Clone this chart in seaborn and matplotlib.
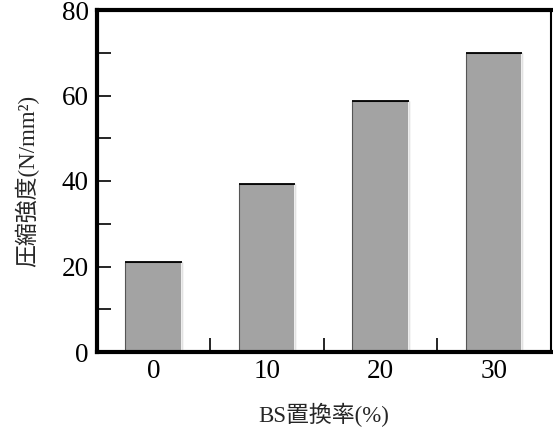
import matplotlib
matplotlib.use("Agg")
import matplotlib.pyplot as plt
import seaborn as sns
import pandas as pd
from matplotlib.ticker import MultipleLocator, FixedLocator

categories = ["0", "10", "20", "30"]
strength = [21.0, 39.3, 58.8, 70.0]
xlabel = "BS置換率(%)"
ylabel = "圧縮強度(N/mm²)"

sns.set_style("white")
plt.rcParams['font.family'] = ['Liberation Serif', 'Noto Sans CJK JP']

df = pd.DataFrame({"rate": categories, "strength": strength})

fig = plt.figure(figsize=(5.53, 4.29), dpi=100)
ax = fig.add_axes([97/553, 1-352/429, (550.7-97)/553, (352-10)/429])

sns.barplot(data=df, x="rate", y="strength", color="#a3a3a3", width=0.5,
            edgecolor="#555555", linewidth=0.8, saturation=1, ax=ax)
# black top edge and light right edge on each bar
for p in ax.patches:
    x0 = p.get_x(); w = p.get_width(); h = p.get_height()
    ax.plot([x0 + w, x0 + w], [0, h], color="white", lw=1.2)
    ax.plot([x0, x0 + w], [h, h], color="black", lw=1.3, solid_capstyle="butt")

ax.set_xlim(-0.5, 3.5)
ax.set_ylim(0, 80)
ax.yaxis.set_major_locator(MultipleLocator(20))
ax.yaxis.set_minor_locator(MultipleLocator(10))
ax.xaxis.set_minor_locator(FixedLocator([0.5, 1.5, 2.5]))
ax.tick_params(axis='both', which='both', direction='in', length=10, width=1.2,
               labelsize=19.5, colors='black', bottom=True, left=True)
ax.tick_params(axis='x', which='major', length=0, pad=5)
ax.tick_params(axis='y', which='major', pad=6)

for side in ['left', 'bottom', 'top']:
    ax.spines[side].set_linewidth(3)
    ax.spines[side].set_color('black')
ax.spines['right'].set_linewidth(1.5)
ax.spines['right'].set_color('black')

ax.set_xlabel(xlabel, fontsize=16.5, labelpad=14)
ax.set_ylabel(ylabel, fontsize=16.5, labelpad=16)

fig.savefig("out.png", dpi=100)
